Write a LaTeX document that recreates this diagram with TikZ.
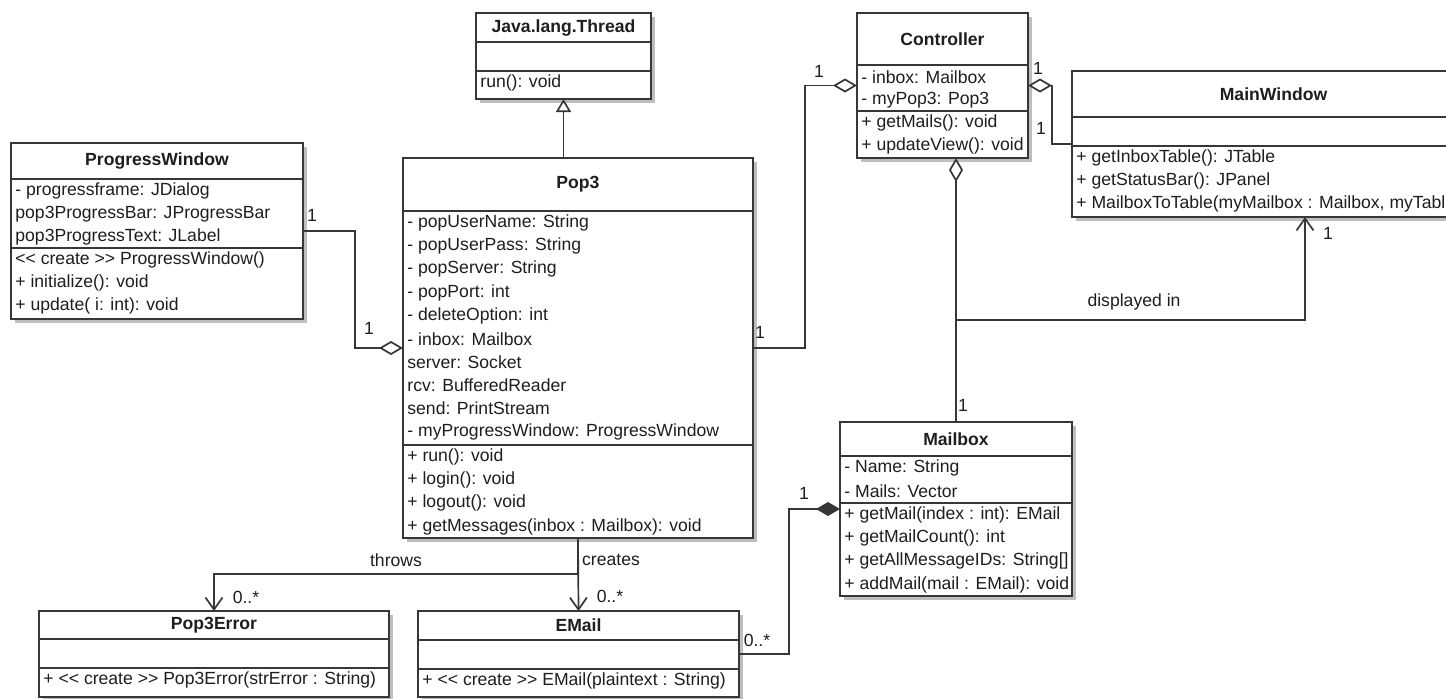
\documentclass[tikz,border=0pt]{standalone}
\usepackage{fontspec}
\setmainfont{Liberation Sans}
\usetikzlibrary{arrows.meta,positioning,fit,shadows}
\definecolor{umlLine}{RGB}{55,55,55}
\definecolor{umlText}{RGB}{30,30,30}
\definecolor{umlShadow}{RGB}{190,190,190}

% rows of one compartment: name, left x, top y, list
\newcommand{\members}[4]{%
  \foreach \m [count=\i] in {#4}
    \node[member] (#1-\i) at ({#2+4},{#3+12+23.2*(\i-1)}) {\m};}

\begin{document}
\begin{tikzpicture}[x=0.5pt, y=-0.5pt,
    font=\fontsize{8.8pt}{10.5pt}\selectfont, text=umlText,
    classbox/.style={draw=umlLine, line width=0.9pt, fill=white, inner sep=0pt, outer sep=0pt,
      drop shadow={shadow xshift=2.2pt, shadow yshift=-2.2pt, fill=umlShadow, opacity=1}},
    classname/.style={font=\fontsize{8.8pt}{10.5pt}\selectfont\bfseries, inner sep=0pt},
    member/.style={anchor=west, inner sep=0pt},
    sepline/.style={draw=umlLine, line width=0.9pt},
    conn/.style={draw=umlLine, line width=0.85pt},
    aggr/.style={-{Diamond[open, length=12pt, width=7pt]}},
    comp/.style={-{Diamond[length=12pt, width=7pt, fill=umlLine]}},
    gen/.style={-{Triangle[open, length=6.5pt, width=7.5pt]}},
    nav/.style={-{Straight Barb[length=6pt, width=8.5pt]}},
    mult/.style={inner sep=0pt}]
  \useasboundingbox (0,0) rectangle (1446,698);
  \fill[white] (0,0) rectangle (1446,698);
  \clip (0,0) rectangle (1446,698);

  % --- Java.lang.Thread ---
  \path (476,13) coordinate (thread-nw) (651,99) coordinate (thread-se);
  \node[classbox, fit=(thread-nw)(thread-se)] (thread) {};
  \node[classname] (thread-t) at (563.5,27.5) {Java.lang.Thread};
  \draw[sepline] (476,42) -- (651,42) (476,71) -- (651,71);
  \members{threadm}{476}{71}{run(): void}

  % --- Pop3 ---
  \path (403,158) coordinate (pop3-nw) (753,538) coordinate (pop3-se);
  \node[classbox, fit=(pop3-nw)(pop3-se)] (pop3) {};
  \node[classname] (pop3-t) at (578,184.5) {Pop3};
  \draw[sepline] (403,211) -- (753,211) (403,445) -- (753,445);
  \members{pop3a}{403}{211}{- popUserName: String, - popUserPass: String,
    - popServer: String, - popPort: int, - deleteOption: int, - inbox: Mailbox,
    server: Socket, rcv: BufferedReader, send: PrintStream,
    - myProgressWindow: ProgressWindow}
  \members{pop3m}{403}{445}{+ run(): void, + login(): void, + logout(): void,
    {+ getMessages(inbox : Mailbox): void}}

  % --- Controller ---
  \path (857,13) coordinate (ctrl-nw) (1028,158) coordinate (ctrl-se);
  \node[classbox, fit=(ctrl-nw)(ctrl-se)] (controller) {};
  \node[classname] (ctrl-t) at (942.5,39) {Controller};
  \draw[sepline] (857,65) -- (1028,65) (857,111) -- (1028,111);
  \members{ctrla}{857}{65}{- inbox: Mailbox, - myPop3: Pop3}
  \members{ctrlm}{857}{111}{+ getMails(): void, + updateView(): void}

  % --- MainWindow (runs past the right edge) ---
  \path (1072,71) coordinate (mwin-nw) (1475,217) coordinate (mwin-se);
  \node[classbox, fit=(mwin-nw)(mwin-se)] (mainwin) {};
  \node[classname] (mwin-t) at (1273.5,94) {MainWindow};
  \draw[sepline] (1072,117) -- (1475,117) (1072,146) -- (1475,146);
  \members{mwinm}{1072}{146}{+ getInboxTable(): JTable, + getStatusBar(): JPanel,
    {+ MailboxToTable(myMailbox : Mailbox, myTable}}

  % --- ProgressWindow ---
  \path (11,143) coordinate (prog-nw) (303,319) coordinate (prog-se);
  \node[classbox, fit=(prog-nw)(prog-se)] (progwin) {};
  \node[classname] (prog-t) at (157,161) {ProgressWindow};
  \draw[sepline] (11,179) -- (303,179) (11,248) -- (303,248);
  \members{proga}{11}{179}{- progressframe: JDialog, pop3ProgressBar: JProgressBar,
    pop3ProgressText: JLabel}
  \members{progm}{11}{248}{<{}< create >{}> ProgressWindow(), + initialize(): void,
    + update( i: int): void}

  % --- Mailbox ---
  \path (840,422) coordinate (mbox-nw) (1072,596) coordinate (mbox-se);
  \node[classbox, fit=(mbox-nw)(mbox-se)] (mailbox) {};
  \node[classname] (mbox-t) at (956,439) {Mailbox};
  \draw[sepline] (840,456) -- (1072,456) (840,503) -- (1072,503);
  \members{mboxa}{840}{456}{- Name: String, - Mails: Vector}
  \members{mboxm}{840}{503}{+ getMail(index : int): EMail, + getMailCount(): int,
    {+ getAllMessageIDs: String[]}, + addMail(mail : EMail): void}

  % --- Pop3Error ---
  \path (39,611) coordinate (perr-nw) (389,697) coordinate (perr-se);
  \node[classbox, fit=(perr-nw)(perr-se)] (p3err) {};
  \node[classname] (perr-t) at (214,625) {Pop3Error};
  \draw[sepline] (39,639) -- (389,639) (39,668) -- (389,668);
  \members{perrm}{39}{668}{+ <{}< create >{}> Pop3Error(strError : String)}

  % --- EMail ---
  \path (418,611) coordinate (mail-nw) (739,697) coordinate (mail-se);
  \node[classbox, fit=(mail-nw)(mail-se)] (email) {};
  \node[classname] (mail-t) at (578.5,625) {EMail};
  \draw[sepline] (418,640) -- (739,640) (418,669) -- (739,669);
  \members{mailm}{418}{669}{+ <{}< create >{}> EMail(plaintext : String)}

  % --- connectors ---
  \draw[conn, gen] (pop3.north -| thread.south) -- (thread.south);
  \draw[conn, aggr] (pop3.east) -- ++(52,0) |- (controller.west);
  \draw[conn, aggr] (mainwin.west) -- ++(-20,0) |- (controller.east);
  \draw[conn, aggr] (mailbox.north) -- (mailbox.north |- controller.south);
  \coordinate (disp) at (mailbox.north |- 0,320);
  \coordinate (dispx) at (1305,0);
  \draw[conn, nav] (disp) -| (mainwin.south -| dispx);
  \draw[conn, aggr] (progwin.east) -- ++(52,0) |- (pop3.west);
  \draw[conn, nav] (pop3.south) -- (email.north);
  \draw[conn, nav] (pop3.south) -- ++(0,36) -| (p3err.north);
  \draw[conn, comp] (email.east) -- ++(50,0) |- (mailbox.west);

  % --- multiplicities and labels ---
  \node[mult] (m-ctrl-l) at (819,71) {1};
  \node[mult] (m-pop3-r) at (760,332) {1};
  \node[mult] (m-ctrl-r) at (1038,68) {1};
  \node[mult] (m-mwin-l) at (1041,128) {1};
  \node[mult] (m-mwin-b) at (1328,233) {1};
  \node[mult] (m-mbox-t) at (963,405) {1};
  \node[mult] (l-disp) at (1134,302) {displayed in};
  \node[mult] (m-prog-r) at (312,215) {1};
  \node[mult] (m-pop3-l) at (369,328) {1};
  \node[mult] (l-throws) at (396,560) {throws};
  \node[mult] (l-creates) at (611,560) {creates};
  \node[mult] (m-perr) at (246,597) {0..*};
  \node[mult] (m-mail-t) at (610,596) {0..*};
  \node[mult] (m-mbox-l) at (804,493) {1};
  \node[mult] (m-mail-r) at (757,640) {0..*};
\end{tikzpicture}
\end{document}
